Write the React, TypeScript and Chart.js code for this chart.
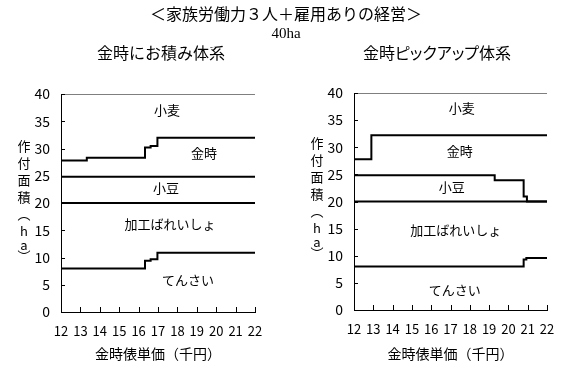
import React, { useEffect, useRef } from "react";
import { Chart, registerables } from "chart.js";
Chart.register(...registerables);

// ---- shared axis data ----
const xTickValues = [12, 13, 14, 15, 16, 17, 18, 19, 20, 21, 22];
const yTickValues = [0, 5, 10, 15, 20, 25, 30, 35, 40];
const cropNames = ["小麦", "金時", "小豆", "加工ばれいしょ", "てんさい"];

// ---- left: 金時にお積み体系 (boundary lines, stepped) ----
const leftTensaiX = [12, 16.33, 16.62, 16.97, 22];
const leftTensaiY = [8, 9.4, 9.7, 10.85, 10.85];
const leftBareishoX = [12, 22];
const leftBareishoY = [20, 20];
const leftAzukiX = [12, 22];
const leftAzukiY = [24.8, 24.8];
const leftKintokiX = [12, 13.33, 16.33, 16.62, 16.97, 22];
const leftKintokiY = [27.8, 28.3, 30.2, 30.45, 31.95, 31.95];
const leftKomugiX = [12, 22];
const leftKomugiY = [40, 40];
const leftLabelX = [17.46, 19.37, 17.41, 17.62, 18.55];
const leftLabelY = [37.0, 29.2, 22.7, 16.1, 5.8];

// ---- right: 金時ピックアップ体系 ----
const rightTensaiX = [12, 20.79, 20.93, 22];
const rightTensaiY = [8, 9.3, 9.6, 9.6];
const rightBareishoX = [12, 22];
const rightBareishoY = [20, 20];
const rightAzukiX = [12, 19.29, 20.79, 20.96, 22];
const rightAzukiY = [24.85, 23.9, 20.9, 20, 20];
const rightKintokiX = [12, 12.9, 22];
const rightKintokiY = [27.8, 32.2, 32.2];
const rightKomugiX = [12, 22];
const rightKomugiY = [40, 40];
const rightLabelX = [17.58, 17.48, 17.06, 17.27, 17.22];
const rightLabelY = [37.2, 29.3, 22.6, 14.7, 3.7];

const FONT = "'Noto Sans CJK JP', 'Noto Sans', sans-serif";

function pts(xs: number[], ys: number[]) {
  return xs.map((x, i) => ({ x, y: ys[i] }));
}

function lineDs(xs: number[], ys: number[], width = 2) {
  return {
    data: pts(xs, ys),
    stepped: "before" as const,
    borderColor: "#000",
    borderWidth: width,
    pointRadius: 0,
    fill: false,
    borderCapStyle: "butt" as const,
    borderJoinStyle: "miter" as const,
  };
}

const decorPlugin = {
  id: "decor",
  afterDatasetsDraw(chart: any, _args: any, opts: any) {
    const { ctx } = chart;
    const xs = chart.scales.x;
    const ys = chart.scales.y;
    ctx.save();
    ctx.strokeStyle = "#000";
    ctx.lineWidth = 1;
    ctx.beginPath();
    for (const v of yTickValues) {
      const py = Math.round(ys.getPixelForValue(v)) + 0.5;
      ctx.moveTo(xs.left, py);
      ctx.lineTo(xs.left + 4, py);
    }
    for (const v of xTickValues) {
      const px = Math.round(xs.getPixelForValue(v)) + 0.5;
      ctx.moveTo(px, ys.bottom);
      ctx.lineTo(px, ys.bottom - 5);
    }
    ctx.stroke();
    ctx.fillStyle = "#000";
    ctx.font = `13px ${FONT}`;
    ctx.textAlign = "center";
    ctx.textBaseline = "middle";
    const lx: number[] = opts.labelX;
    const ly: number[] = opts.labelY;
    cropNames.forEach((name, i) => {
      ctx.fillText(name, xs.getPixelForValue(lx[i]), ys.getPixelForValue(ly[i]));
    });
    ctx.restore();
  },
};

function makeConfig(
  series: { xs: number[]; ys: number[]; w?: number }[],
  labelX: number[],
  labelY: number[],
  yWidth: number,
  xHeight: number,
  padTop: number,
  padRight: number
): any {
  return {
    type: "line",
    data: {
      datasets: series.map((s) => lineDs(s.xs, s.ys, s.w ?? 2)),
    },
    plugins: [decorPlugin],
    options: {
      animation: false,
      responsive: false,
      devicePixelRatio: 1,
      layout: { padding: { top: padTop, right: padRight, left: 0, bottom: 0 } },
      plugins: {
        legend: { display: false },
        tooltip: { enabled: false },
        decor: { labelX, labelY },
      },
      scales: {
        x: {
          type: "linear",
          min: 12,
          max: 22,
          afterBuildTicks: (s: any) => {
            s.ticks = xTickValues.map((v) => ({ value: v }));
          },
          afterFit: (s: any) => {
            s.height = xHeight;
          },
          grid: { drawOnChartArea: false, drawTicks: false },
          border: { color: "#000", width: 1 },
          ticks: {
            color: "#000",
            font: { family: FONT, size: 13 },
            padding: 11,
            maxRotation: 0,
            autoSkip: false,
          },
          title: {
            display: true,
            text: "金時俵単価（千円）",
            color: "#000",
            font: { family: FONT, size: 14 },
            padding: { top: 0, bottom: 20 },
          },
        },
        y: {
          type: "linear",
          min: 0,
          max: 40,
          afterBuildTicks: (s: any) => {
            s.ticks = yTickValues.map((v) => ({ value: v }));
          },
          afterFit: (s: any) => {
            s.width = yWidth;
          },
          grid: { drawOnChartArea: false, drawTicks: false },
          border: { color: "#000", width: 1 },
          ticks: {
            color: "#000",
            font: { family: FONT, size: 14 },
            padding: 11,
          },
        },
      },
    },
  };
}

const yTitleChars = ["作", "付", "面", "積", "︵", "h", "a", "︶"];
const yTitleHeights = [17, 17, 17, 17, 17, 17, 11, 12];

function YTitle({ left, top }: { left: number; top: number }) {
  return (
    <div style={{ position: "absolute", left, top, width: 16, textAlign: "center", fontFamily: FONT, fontSize: 13, color: "#000" }}>
      {yTitleChars.map((c, i) => (
        <div key={i} style={{ height: yTitleHeights[i], lineHeight: `${yTitleHeights[i]}px` }}>
          {c}
        </div>
      ))}
    </div>
  );
}

function Centered({ x, y, size, text, family, palt }: { x: number; y: number; size: number; text: string; family?: string; palt?: boolean }) {
  return (
    <div
      style={{
        position: "absolute",
        left: x,
        top: y,
        transform: "translate(-50%, -50%)",
        whiteSpace: "nowrap",
        fontFamily: family ?? FONT,
        fontSize: size,
        fontFeatureSettings: palt ? '"palt"' : "normal",
        lineHeight: 1,
        color: "#000",
      }}
    >
      {text}
    </div>
  );
}

export default function App() {
  const leftRef = useRef<HTMLCanvasElement>(null);
  const rightRef = useRef<HTMLCanvasElement>(null);

  useEffect(() => {
    const left = new Chart(
      leftRef.current!,
      makeConfig(
        [
          { xs: leftTensaiX, ys: leftTensaiY },
          { xs: leftBareishoX, ys: leftBareishoY },
          { xs: leftAzukiX, ys: leftAzukiY },
          { xs: leftKintokiX, ys: leftKintokiY },
          { xs: leftKomugiX, ys: leftKomugiY, w: 1 },
        ],
        leftLabelX,
        leftLabelY,
        61,
        70,
        94,
        37
      )
    );
    const right = new Chart(
      rightRef.current!,
      makeConfig(
        [
          { xs: rightTensaiX, ys: rightTensaiY },
          { xs: rightBareishoX, ys: rightBareishoY },
          { xs: rightAzukiX, ys: rightAzukiY },
          { xs: rightKintokiX, ys: rightKintokiY },
          { xs: rightKomugiX, ys: rightKomugiY, w: 1 },
        ],
        rightLabelX,
        rightLabelY,
        62,
        72,
        93,
        38
      )
    );
    return () => {
      left.destroy();
      right.destroy();
    };
  }, []);

  return (
    <div style={{ position: "fixed", left: 0, top: 0, width: 585, height: 382, background: "#fff", overflow: "hidden" }}>
      <canvas ref={leftRef} width={292} height={382} style={{ position: "absolute", left: 0, top: 0, width: 292, height: 382 }} />
      <canvas ref={rightRef} width={293} height={382} style={{ position: "absolute", left: 292, top: 0, width: 293, height: 382 }} />
      <Centered x={286} y={13} size={16} text="＜家族労働力３人＋雇用ありの経営＞" />
      <Centered x={286} y={33} size={15} text="40ha" family="'Liberation Serif', serif" />
      <Centered x={161} y={52} size={16} text="金時にお積み体系" />
      <Centered x={437} y={52} size={16} text="金時ピックアップ体系" palt />
      <YTitle left={16} top={137} />
      <YTitle left={309} top={134} />
    </div>
  );
}
